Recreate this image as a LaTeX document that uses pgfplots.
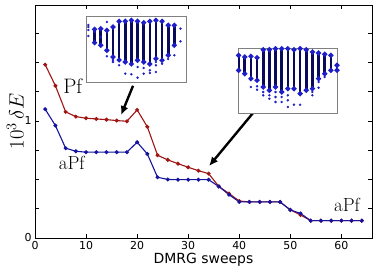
\documentclass[border=0pt]{standalone}
\usepackage{fontspec}
\setsansfont{DejaVu Sans}
\usepackage{pgfplots}
\pgfplotsset{compat=1.18}
\usetikzlibrary{calc,arrows.meta}
\definecolor{pfred}{RGB}{160,20,20}
\definecolor{apfblue}{RGB}{20,20,160}
\definecolor{navy}{RGB}{10,10,90}
\definecolor{dotblue}{RGB}{30,30,200}
\begin{document}
\begin{tikzpicture}
\begin{axis}[name=main, at={(0,0)}, anchor=south west,
  scale only axis, width=337bp, height=233bp,
  xmin=0, xmax=66, ymin=0, ymax=1.99,
  xtick={0,10,...,60},
  ytick={0,0.25,0.5,0.75,1,1.25,1.5,1.75},
  yticklabels={0,,,,1,,,},
  tick label style={font=\sffamily\fontsize{11}{12}\selectfont},
  /pgf/number format/assume math mode=true,
  major tick length=4bp,
  tick style={black, line width=0.6bp},
  axis line style={black, line width=0.8bp},
  xlabel={DMRG sweeps},
  xlabel style={font=\sffamily\fontsize{14}{16}\selectfont, yshift=4bp},
  ylabel={$10^3\,\delta E$},
  ylabel style={font=\fontsize{22}{24}\selectfont, yshift=-6bp},
  clip=false]
\addplot[pfred, line width=1.1bp, mark=*, mark size=1.4bp] coordinates {
(2,1.48) (4,1.30) (6,1.077) (8,1.037) (10,1.023) (12,1.017) (14,1.011) (16,1.003)
(18,0.997) (20,1.094) (22,0.95) (24,0.707) (26,0.667) (28,0.635) (30,0.604) (32,0.575)
(34,0.55) (36,0.44) (38,0.38) (40,0.316) (42,0.308) (44,0.308) (46,0.308) (48,0.308)
(50,0.24) (52,0.197) (54,0.148) (56,0.148) (58,0.148) (60,0.148) (62,0.148) (64,0.148)};
\addplot[apfblue, line width=1.1bp, mark=*, mark size=1.4bp] coordinates {
(2,1.10) (4,0.96) (6,0.767) (8,0.741) (10,0.733) (12,0.733) (14,0.733) (16,0.733)
(18,0.733) (20,0.818) (22,0.718) (24,0.519) (26,0.50) (28,0.498) (30,0.498) (32,0.498)
(34,0.498) (36,0.44) (38,0.37) (40,0.308) (42,0.308) (44,0.308) (46,0.308) (48,0.308)
(50,0.24) (52,0.21) (54,0.148) (56,0.148) (58,0.148) (60,0.148) (62,0.148) (64,0.148)};
\node[font=\fontsize{21}{24}\selectfont] at (axis cs:7.4,1.30) {Pf};
\node[font=\fontsize{19}{22}\selectfont] at (axis cs:7.2,0.64) {aPf};
\node[font=\fontsize{19}{22}\selectfont] at (axis cs:61.1,0.28) {aPf};
\draw[-{Latex[length=9bp,width=8bp]}, line width=2.4bp, black] (axis cs:19.2,1.30) -- (axis cs:16.85,1.05);
\draw[-{Latex[length=9bp,width=8bp]}, line width=2.4bp, black] (axis cs:43.5,1.11) -- (axis cs:34.1,0.615);
\end{axis}
% inset 1
\begin{axis}[at={($(main.south west)+(51bp,156bp)$)}, anchor=south west,
  scale only axis, width=100bp, height=66bp,
  xmin=-0.4, xmax=15.9, ymin=0, ymax=66, ticks=none,
  axis line style={gray, line width=0.7bp},
  axis background/.style={fill=white},
  unbounded coords=jump]
\addplot[navy, line width=2.6bp, mark=*, mark size=1bp, mark options={dotblue}] coordinates {
(1,52.7) (1,39.3) (1,nan)
(2,53.3) (2,36.7) (2,nan)
(3,51.7) (3,31.7) (3,nan)
(4,55) (4,25) (4,nan)
(5,60.7) (5,22) (5,nan)
(6,60.7) (6,20) (6,nan)
(7,61.7) (7,18) (7,nan)
(8,60.7) (8,21.7) (8,nan)
(9,59.3) (9,20) (9,nan)
(10,60.7) (10,18) (10,nan)
(11,61.7) (11,23.3) (11,nan)
(12,60.7) (12,21.7) (12,nan)
(13,56.7) (13,26.7) (13,nan)
(14,56.7) (14,36.7)};
\addplot[only marks, dotblue, mark=*, mark size=1bp] coordinates {
(0,57) (0,55) (0,52) (0,46) (3,60) (3,25.7) (4,20) (5,16.7) (6,8.3) (7,7.7)
(8,15) (8,4.3) (9,14) (9,8.3) (10,11.7) (10,9) (11,20) (11,16.7) (11,10)
(12,18.3) (13,23) (14,26.7) (15,53.3) (15,40.7) (16,43.3) (1,50) (2,45) (4,22)};
\end{axis}
% inset 2
\begin{axis}[at={($(main.south west)+(203bp,125bp)$)}, anchor=south west,
  scale only axis, width=99bp, height=65bp,
  xmin=-0.1, xmax=16, ymin=0, ymax=65, ticks=none,
  axis line style={gray, line width=0.7bp},
  axis background/.style={fill=white},
  unbounded coords=jump]
\addplot[navy, line width=2.6bp, mark=*, mark size=1bp, mark options={dotblue}] coordinates {
(0,57.7) (0,42.7) (0,nan)
(1,56) (1,39.3) (1,nan)
(2,56.7) (2,34.3) (2,nan)
(3,55.3) (3,32.7) (3,nan)
(4,63.3) (4,26) (4,nan)
(5,63.3) (5,22.7) (5,nan)
(6,64.3) (6,26) (6,nan)
(7,64.3) (7,21) (7,nan)
(8,64.3) (8,24.3) (8,nan)
(9,63.3) (9,24.3) (9,nan)
(10,64.3) (10,19.3) (10,nan)
(11,63.3) (11,22.7) (11,nan)
(12,61) (12,24.3) (12,nan)
(13,60) (13,34.3) (13,nan)
(14,58.7) (14,39.3) (14,nan)
(15,57.7) (15,42.7) (15,nan)
(16,47.7) (16,42.7)};
\addplot[only marks, dotblue, mark=*, mark size=1bp] coordinates {
(2,26) (3,26.7) (3,23.3) (4,21) (4,17.7) (5,17.7) (5,14.3) (6,21) (6,16) (6,11)
(7,16) (7,11) (8,17.7) (8,12.7) (8,6) (9,8.3) (10,8.3) (12,21) (12,17.7)
(13,31) (13,25.3) (14,36)};
\end{axis}
\pgfresetboundingbox
\path ($(main.south west)+(-35bp,-34bp)$) rectangle ($(main.north east)+(20bp,5bp)$);
\end{tikzpicture}
\end{document}
